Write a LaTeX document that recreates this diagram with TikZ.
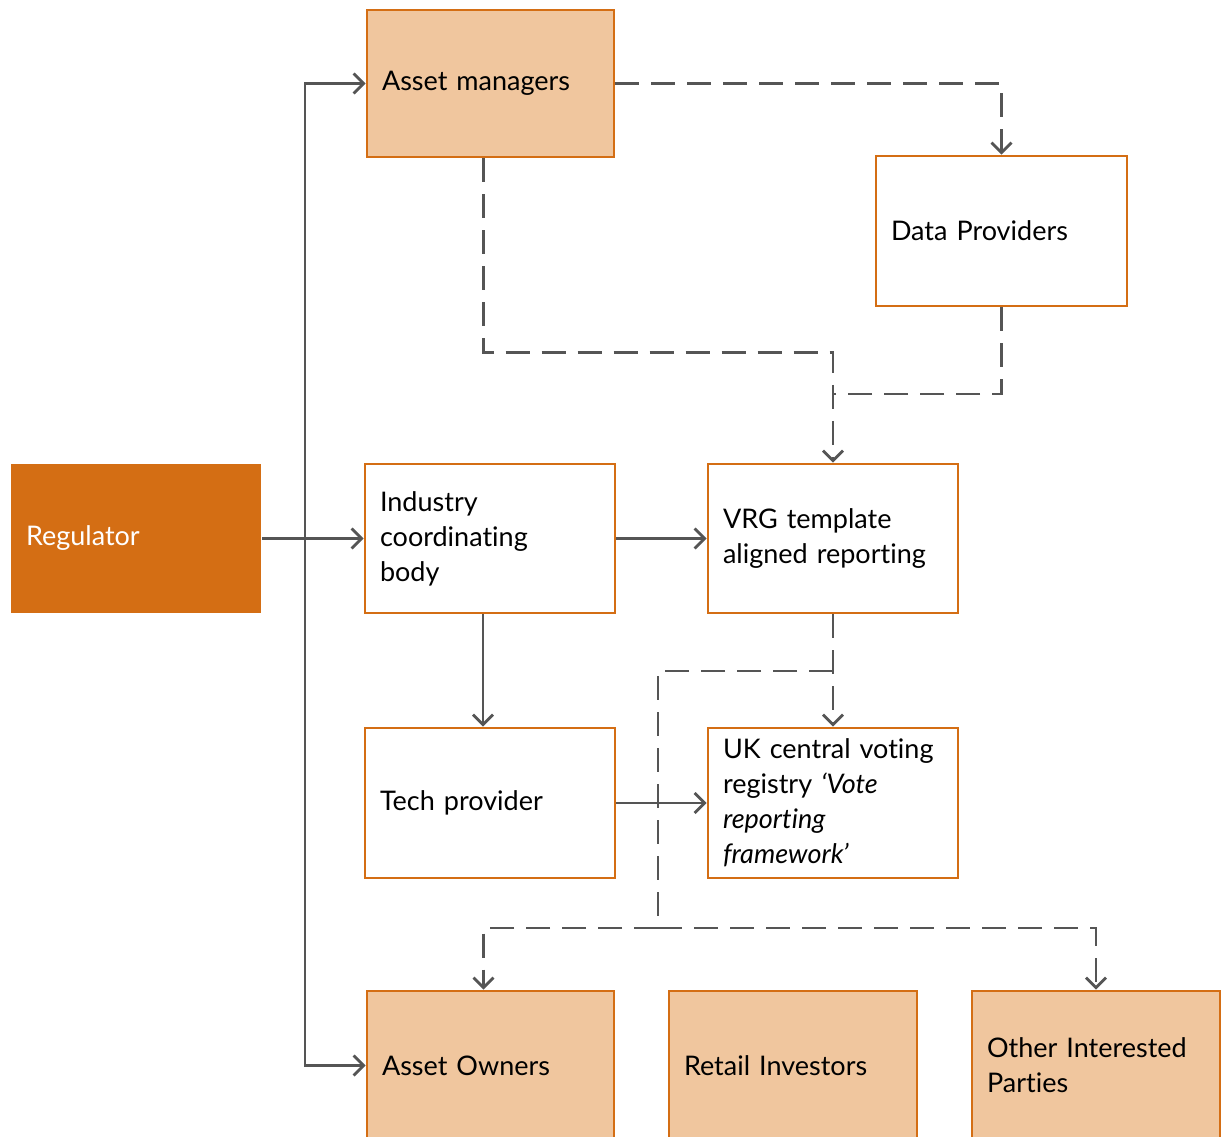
\documentclass[tikz,border=0pt]{standalone}
\usepackage{fontspec}
\setmainfont[Ligatures=NoCommon]{Lato}
\usetikzlibrary{arrows.meta}
\definecolor{orng}{HTML}{D46E14}
\definecolor{lightorng}{HTML}{F0C69E}
\definecolor{conn}{HTML}{555555}
\begin{document}
\begin{tikzpicture}[x=1pt,y=-1pt,
  box/.style={draw=orng, line width=2.8pt, fill=white, align=left, inner xsep=15pt, inner ysep=0pt,
    minimum width=250pt, minimum height=150pt, text width=220pt,
    font=\fontsize{27}{35}\selectfont, text=black},
  litebox/.style={box, fill=lightorng},
  regbox/.style={box, draw=none, fill=orng, text=white},
  cline/.style={draw=conn, line width=2.8pt},
  tip/.style={-{Straight Barb[length=10pt,width=20pt,line width=2.8pt]}},
  dline/.style={cline, dash pattern=on 24pt off 12pt}]
\useasboundingbox (0,0) rectangle (1224,1136);

\node[litebox, minimum width=247pt, text width=217pt, minimum height=147pt] (am) at (490.5,83.5) {Asset managers};
\node[box, minimum width=251pt, text width=221pt] (dp) at (1001.5,231) {Data Providers};
\node[regbox, minimum height=149pt] (reg) at (136,538.5) {Regulator};
\node[box, minimum height=149pt] (ind) at (490,538.5) {Industry\\coordinating\\body};
\node[box, minimum height=149pt] (vrg) at (833,538.5) {VRG template\\aligned reporting};
\node[box] (tech) at (490,803) {Tech provider};
\node[box] (uk) at (833,803) {UK central voting\\registry \textit{‘Vote\\reporting\\framework’}};
\node[litebox, minimum width=247pt, text width=217pt, minimum height=149pt] (ao) at (490.5,1065.5) {Asset Owners};
\node[litebox, minimum width=248pt, text width=218pt, minimum height=149pt] (ri) at (793,1065.5) {Retail Investors};
\node[litebox, minimum width=248pt, text width=218pt, minimum height=149pt] (oip) at (1096,1065.5) {Other Interested\\Parties};

% regulator links
\coordinate (vtop) at (305,83.5);
\coordinate (vbot) at (305,1065.5);
\draw[cline, {Straight Barb[length=10pt,width=20pt,line width=2.8pt]}-{Straight Barb[length=10pt,width=20pt,line width=2.8pt]}] (am.west) -- (vtop) -- (vbot) -- (ao.west);
\draw[cline, tip] (reg.east) -- (ind.west);

% solid links
\draw[cline, tip] (ind.east) -- (vrg.west);
\draw[cline, tip] ([xshift=-7pt]ind.south) -- ([xshift=-7pt]tech.north);
\draw[cline, tip] (tech.east) -- (uk.west);

% dashed links
\draw[dline, tip] (am.east) -| (dp.north);
\draw[dline, tip] ([xshift=-7pt]am.south) -- ++(0,194) -| (vrg.north);
\coordinate (j2) at (833,394);
\draw[dline] (dp.south) |- (j2);
\draw[dline, tip] (vrg.south) -- (uk.north);
\coordinate (j3) at (833,671);
\coordinate (j4) at (658,928);
\draw[dline] (j3) -| (j4);
\draw[dline, tip] (j4) -| ([xshift=-7pt]ao.north);
\draw[dline, tip] (j4) -| (oip.north);
\end{tikzpicture}
\end{document}
